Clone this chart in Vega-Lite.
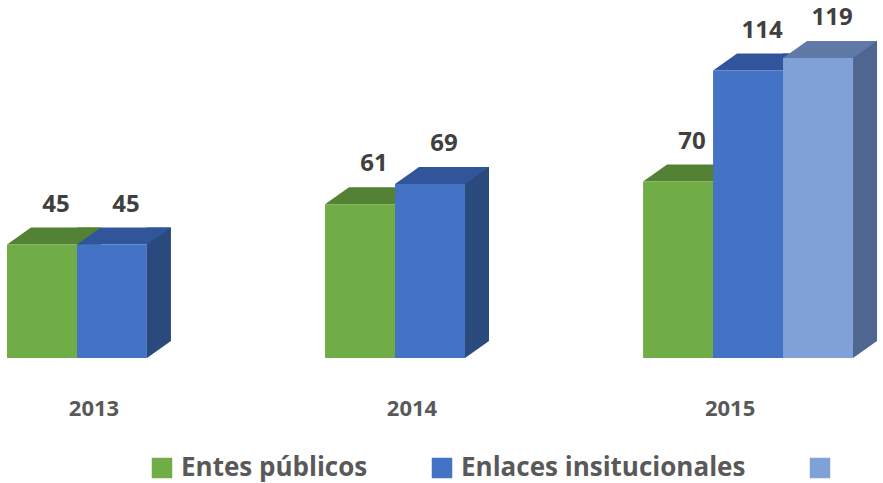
{
  "$schema": "https://vega.github.io/schema/vega-lite/v6.json",
  "width": 860,
  "height": 358,
  "autosize": {"type": "none"},
  "padding": {"left": 0, "top": 0, "right": 23, "bottom": 125},
  "background": "white",
  "config": {"view": {"stroke": null}},
  "data": {
    "values": [
      {"year": "2013", "series": "Entes públicos", "value": 45},
      {"year": "2013", "series": "Enlaces insitucionales", "value": 45},
      {"year": "2014", "series": "Entes públicos", "value": 61},
      {"year": "2014", "series": "Enlaces insitucionales", "value": 69},
      {"year": "2015", "series": "Entes públicos", "value": 70},
      {"year": "2015", "series": "Enlaces insitucionales", "value": 114},
      {"year": "2015", "series": "Serie 3", "value": 119}
    ]
  },
  "encoding": {
    "x": {
      "field": "year", "type": "nominal",
      "scale": {"paddingInner": 0.34, "paddingOuter": 0.022},
      "axis": {"title": null, "domain": false, "ticks": false, "labelAngle": 0, "labelPadding": 40, "labelOffset": -18, "labelFont": "Open Sans", "labelFontWeight": "bold", "labelFontSize": 22, "labelColor": "#595959"}
    },
    "y": {"field": "value", "type": "quantitative", "scale": {"domain": [0, 142], "nice": false}, "axis": null},
    "xOffset": {"field": "series", "type": "nominal", "sort": ["Entes públicos", "Enlaces insitucionales", "Serie 3"], "scale": {"domain": ["Entes públicos", "Enlaces insitucionales", "Serie 3"], "paddingInner": 0, "paddingOuter": 0}}
  },
  "layer": [
    {
      "transform": [{"filter": "datum.series === 'Entes públicos'"}],
      "mark": {"type": "rule", "strokeWidth": 24, "xOffset": -23, "yOffset": -17, "y2Offset": -17, "color": "#4A7530"},
      "encoding": {"y2": {"datum": 0}, "xOffset": null}
    },
    {
      "transform": [{"filter": "datum.series === 'Enlaces insitucionales'"}],
      "mark": {"type": "rule", "strokeWidth": 24, "xOffset": 47, "yOffset": -17, "y2Offset": -17, "color": "#2A4A7E"},
      "encoding": {"y2": {"datum": 0}, "xOffset": null}
    },
    {
      "transform": [{"filter": "datum.series === 'Serie 3'"}],
      "mark": {"type": "rule", "strokeWidth": 24, "xOffset": 117, "yOffset": -17, "y2Offset": -17, "color": "#4F6690"},
      "encoding": {"y2": {"datum": 0}, "xOffset": null}
    },
    {
      "transform": [{"filter": "datum.series === 'Entes públicos'"}],
      "mark": {"type": "point", "shape": "M35,-17L59,-17L35,0Z", "size": 4, "filled": true, "opacity": 1, "strokeWidth": 0, "color": "#4A7530"},
      "encoding": {"y": {"datum": 0}}
    },
    {
      "transform": [{"filter": "datum.series === 'Enlaces insitucionales'"}],
      "mark": {"type": "point", "shape": "M35,-17L59,-17L35,0Z", "size": 4, "filled": true, "opacity": 1, "strokeWidth": 0, "color": "#2A4A7E"},
      "encoding": {"y": {"datum": 0}}
    },
    {
      "transform": [{"filter": "datum.series === 'Serie 3'"}],
      "mark": {"type": "point", "shape": "M35,-17L59,-17L35,0Z", "size": 4, "filled": true, "opacity": 1, "strokeWidth": 0, "color": "#4F6690"},
      "encoding": {"y": {"datum": 0}}
    },
    {
      "transform": [{"filter": "datum.series === 'Entes públicos'"}],
      "mark": {"type": "point", "shape": "M-35,0L35,0L59,-17L-11,-17Z", "size": 4, "filled": true, "opacity": 1, "strokeWidth": 0, "color": "#548235"}
    },
    {
      "transform": [{"filter": "datum.series === 'Enlaces insitucionales'"}],
      "mark": {"type": "point", "shape": "M-35,0L35,0L59,-17L-11,-17Z", "size": 4, "filled": true, "opacity": 1, "strokeWidth": 0, "color": "#30559A"}
    },
    {
      "transform": [{"filter": "datum.series === 'Serie 3'"}],
      "mark": {"type": "point", "shape": "M-35,0L35,0L59,-17L-11,-17Z", "size": 4, "filled": true, "opacity": 1, "strokeWidth": 0, "color": "#6079A7"}
    },
    {
      "mark": {"type": "bar"},
      "encoding": {
        "color": {
          "field": "series", "type": "nominal",
          "scale": {"domain": ["Entes públicos", "Enlaces insitucionales", "Serie 3"], "range": ["#70AD47", "#4472C4", "#7FA1D8"]},
          "legend": {"orient": "none", "legendX": 149, "legendY": 455, "direction": "horizontal", "title": null, "symbolType": "square", "symbolSize": 420, "symbolStrokeWidth": 0, "symbolOpacity": 1, "labelFont": "Open Sans", "labelFontWeight": "bold", "labelFontSize": 26, "labelColor": "#595959", "labelLimit": 600, "columnPadding": 61, "labelOffset": 6, "padding": 0, "labelExpr": "datum.label === 'Serie 3' ? '' : datum.label"}
        }
      }
    },
    {
      "mark": {"type": "text", "dx": 14, "dy": -40, "baseline": "middle", "align": "center", "font": "Open Sans", "fontWeight": "bold", "fontSize": 24, "color": "#404040"},
      "encoding": {
        "text": {"field": "value", "type": "quantitative"}
      }
    }
  ]
}
